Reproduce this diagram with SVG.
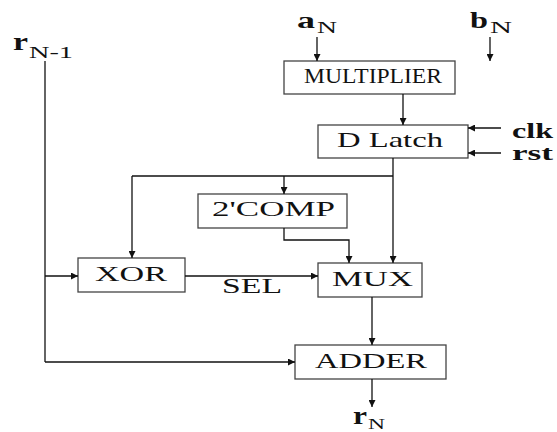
<svg xmlns="http://www.w3.org/2000/svg" width="557" height="432" viewBox="0 0 557 432">
  <style>
    .box { fill: #ffffff; stroke: #444444; stroke-width: 1.3; }
    text { font-family: 'Liberation Serif', 'DejaVu Serif', 'Times New Roman', serif; fill: #111111; }
    .lbl { font-size: 21px; }
    .sig { font-weight: bold; }
    .wire { fill: none; stroke: #111111; stroke-width: 1.3; }
    .arrow { fill: none; stroke: #111111; stroke-width: 1.3; marker-end: url(#head); }
  </style>
  <defs>
    <marker id="head" viewBox="0 0 10 10" refX="10" refY="5" markerWidth="9" markerHeight="7" markerUnits="userSpaceOnUse" orient="auto">
      <path d="M0,0 L10,5 L0,10 Z" fill="#111111"/>
    </marker>
  </defs>
  <rect width="557" height="432" fill="#ffffff"/>

  <!-- external signal labels -->
  <g id="in-r">
    <text class="sig" x="13" y="50" font-size="26" textLength="15" lengthAdjust="spacingAndGlyphs">r</text>
    <text x="29" y="58" font-size="17" textLength="44" lengthAdjust="spacingAndGlyphs">N-1</text>
  </g>
  <g id="in-a">
    <text class="sig" x="297" y="28" font-size="24" textLength="18" lengthAdjust="spacingAndGlyphs">a</text>
    <text x="317" y="33" font-size="16" textLength="20" lengthAdjust="spacingAndGlyphs">N</text>
  </g>
  <g id="in-b">
    <text class="sig" x="470" y="28" font-size="24" textLength="18" lengthAdjust="spacingAndGlyphs">b</text>
    <text x="490" y="33" font-size="16" textLength="22" lengthAdjust="spacingAndGlyphs">N</text>
  </g>
  <g id="in-clk">
    <text class="sig" x="512" y="138" font-size="20" textLength="41" lengthAdjust="spacingAndGlyphs">clk</text>
  </g>
  <g id="in-rst">
    <text class="sig" x="512" y="160" font-size="20" textLength="41" lengthAdjust="spacingAndGlyphs">rst</text>
  </g>
  <g id="out-r">
    <text class="sig" x="353" y="424" font-size="26" textLength="14" lengthAdjust="spacingAndGlyphs">r</text>
    <text x="368" y="429" font-size="14" textLength="17" lengthAdjust="spacingAndGlyphs">N</text>
  </g>

  <!-- blocks -->
  <g id="multiplier">
    <rect class="box" x="284" y="61" width="171" height="33"/>
    <text class="lbl" x="304" y="83" textLength="138" lengthAdjust="spacingAndGlyphs">MULTIPLIER</text>
  </g>
  <g id="dlatch">
    <rect class="box" x="318" y="125" width="150" height="33"/>
    <text class="lbl" x="337" y="147" textLength="106" lengthAdjust="spacingAndGlyphs">D Latch</text>
  </g>
  <g id="twoscomp">
    <rect class="box" x="198" y="194" width="149" height="34"/>
    <text class="lbl" x="212" y="216" textLength="123" lengthAdjust="spacingAndGlyphs">2'COMP</text>
  </g>
  <g id="xor">
    <rect class="box" x="78" y="258" width="107" height="34"/>
    <text class="lbl" x="95" y="281" textLength="72" lengthAdjust="spacingAndGlyphs">XOR</text>
  </g>
  <g id="mux">
    <rect class="box" x="318" y="263" width="104" height="34"/>
    <text class="lbl" x="332" y="286" textLength="81" lengthAdjust="spacingAndGlyphs">MUX</text>
  </g>
  <g id="adder">
    <rect class="box" x="295" y="345" width="151" height="34"/>
    <text class="lbl" x="315" y="368" textLength="112" lengthAdjust="spacingAndGlyphs">ADDER</text>
  </g>

  <!-- connectors -->
  <g id="connectors">
    <line class="wire" x1="45" y1="61" x2="45" y2="362"/>
    <line class="arrow" x1="45" y1="276" x2="78" y2="276"/>
    <line class="arrow" x1="45" y1="362" x2="295" y2="362"/>
    <line class="arrow" x1="317" y1="37" x2="317" y2="61"/>
    <line class="arrow" x1="490" y1="37" x2="490" y2="61"/>
    <line class="arrow" x1="403" y1="94" x2="403" y2="125"/>
    <line class="arrow" x1="501" y1="128" x2="468" y2="128"/>
    <line class="arrow" x1="501" y1="153" x2="468" y2="153"/>
    <line class="arrow" x1="393" y1="158" x2="393" y2="263"/>
    <line class="wire" x1="393" y1="176" x2="132" y2="176"/>
    <line class="arrow" x1="284" y1="176" x2="284" y2="194"/>
    <line class="arrow" x1="132" y1="176" x2="132" y2="258"/>
    <polyline class="arrow" points="284,228 284,240 349,240 349,263"/>
    <line class="arrow" x1="185" y1="276" x2="318" y2="276"/>
    <text class="lbl" x="222" y="293" font-size="15" textLength="60" lengthAdjust="spacingAndGlyphs">SEL</text>
    <line class="arrow" x1="372" y1="297" x2="372" y2="345"/>
    <line class="arrow" x1="372" y1="379" x2="372" y2="407"/>
  </g>
</svg>
